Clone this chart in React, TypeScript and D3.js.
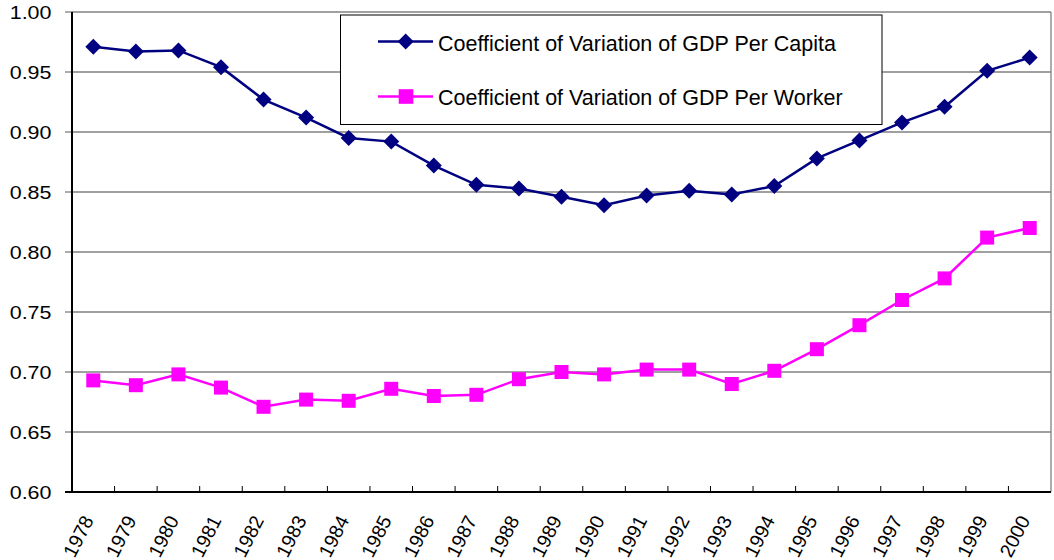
import React from "react";
import * as d3 from "d3";

const years = ["1978","1979","1980","1981","1982","1983","1984","1985","1986","1987","1988","1989","1990","1991","1992","1993","1994","1995","1996","1997","1998","1999","2000"];
const perCapita = [0.971,0.967,0.968,0.954,0.927,0.912,0.895,0.892,0.872,0.856,0.853,0.846,0.839,0.847,0.851,0.848,0.855,0.878,0.893,0.908,0.921,0.951,0.962];
const perWorker = [0.693,0.689,0.698,0.687,0.671,0.677,0.676,0.686,0.680,0.681,0.694,0.700,0.698,0.702,0.702,0.690,0.701,0.719,0.739,0.760,0.778,0.812,0.820];
const yTicks = [0.60,0.65,0.70,0.75,0.80,0.85,0.90,0.95,1.00];
const seriesNames = ["Coefficient of Variation of GDP Per Capita","Coefficient of Variation of GDP Per Worker"];

const W = 1054, H = 560;
const L = 72, R = 1051, T = 12, B = 492;
const FONT = "Liberation Sans, Arial, sans-serif";
const SX = 1.13;

export default function App() {
  const x = d3.scaleBand<string>().domain(years).range([L, R]).padding(0);
  const y = d3.scaleLinear().domain([0.6, 1.0]).range([B, T]);
  const cx = (i: number) => (x(years[i]) as number) + x.bandwidth() / 2;
  const line = d3.line<number>().x((_, i) => cx(i)).y((d) => y(d));
  const navy = "#000080";
  const magenta = "#ff00ff";
  const diamond = (px: number, py: number, r = 8) => `M${px},${py - r}L${px + r},${py}L${px},${py + r}L${px - r},${py}Z`;
  const legendRows = [41.5, 96.5];
  return (
    <svg width={W} height={H} style={{ position: "absolute", left: 0, top: 0, fontFamily: FONT }}>
      <rect x={0} y={0} width={W} height={H} fill="#fff" />
      {yTicks.map((t) => (
        <g key={t}>
          {t > 0.6 && <line x1={L} x2={R} y1={y(t)} y2={y(t)} stroke="#808080" strokeWidth={1.3} />}
          <line x1={L - 7} x2={L} y1={y(t)} y2={y(t)} stroke="#808080" strokeWidth={1.3} />
          <text transform={`translate(51.5,${y(t)}) scale(${SX},1)`} dy="0.36em" textAnchor="end" fontSize={19} fill="#000">{t.toFixed(2)}</text>
        </g>
      ))}
      <line x1={R} x2={R} y1={T} y2={B} stroke="#808080" strokeWidth={1.3} />
      {years.map((yr, i) => (
        <g key={yr}>
          {i > 0 && <line x1={x(yr)} x2={x(yr)} y1={B} y2={B - 6} stroke="#000" strokeWidth={1} />}
          <text transform={`translate(${cx(i) + 1},${520}) rotate(-63)`} textAnchor="end" fontSize={19.5} fill="#000">{yr}</text>
        </g>
      ))}
      <line x1={L} x2={L} y1={T} y2={B + 1} stroke="#000" strokeWidth={2} />
      <line x1={L - 7} x2={R} y1={B} y2={B} stroke="#000" strokeWidth={2} />
      <path d={line(perCapita) || ""} fill="none" stroke={navy} strokeWidth={2.5} />
      <path d={line(perWorker) || ""} fill="none" stroke={magenta} strokeWidth={2.5} />
      {perCapita.map((v, i) => <path key={i} d={diamond(cx(i), y(v))} fill={navy} />)}
      {perWorker.map((v, i) => <rect key={i} x={cx(i) - 7} y={y(v) - 7} width={14} height={14} fill={magenta} />)}
      <g>
        <rect x={340.5} y={15} width={541.5} height={109.5} fill="#fff" stroke="#000" strokeWidth={1} />
        <line x1={378} x2={433} y1={legendRows[0]} y2={legendRows[0]} stroke={navy} strokeWidth={2.5} />
        <path d={diamond(405.7, legendRows[0])} fill={navy} />
        <text x={438} y={legendRows[0] + 9} fontSize={21.5} fill="#000">{seriesNames[0]}</text>
        <line x1={378} x2={433} y1={legendRows[1]} y2={legendRows[1]} stroke={magenta} strokeWidth={2.5} />
        <rect x={398.7} y={legendRows[1] - 7.3} width={14.6} height={14.6} fill={magenta} />
        <text x={438} y={legendRows[1] + 8} fontSize={21.5} fill="#000">{seriesNames[1]}</text>
      </g>
    </svg>
  );
}
